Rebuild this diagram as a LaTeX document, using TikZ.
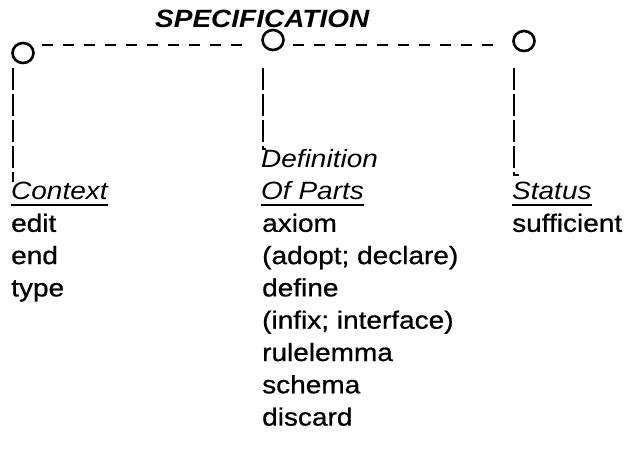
\documentclass[tikz,border=0pt]{standalone}
\usepackage{fontspec}
\setmainfont{Liberation Sans}
\newfontfamily\heavy{Liberation Sans}[FakeBold=0.7]
\usetikzlibrary{shapes.geometric}
\newcommand{\sx}[1]{\scalebox{1.12}[1]{#1}}
\begin{document}
\begin{tikzpicture}[x=1pt,y=-1pt,
  txt/.style={anchor=base west, inner sep=0pt, font=\fontsize{25}{25}\heavy},
  head/.style={anchor=base west, inner sep=0pt, font=\fontsize{25}{25}\selectfont\itshape},
  ring/.style={draw, ellipse, line width=2.6pt, minimum width=21pt, minimum height=20pt, inner sep=0pt},
  link/.style={line width=2.2pt, dash pattern=on 11pt off 10pt},
  stem/.style={line width=2.2pt, dash pattern=on 22pt off 4pt},
  uline/.style={line width=2pt}]
\useasboundingbox (0,0) rectangle (628,448);
\node[anchor=base west, inner sep=0pt, font=\fontsize{25}{25}\selectfont\bfseries\itshape] (title) at (155,27) {\sx{SPECIFICATION}};
\node[ring] (o1) at (23,53) {};
\node[ring] (o2) at (273,40) {};
\node[ring] (o3) at (524,41) {};
\coordinate (d1) at (42,45);
\coordinate (d2) at (246,45);
\coordinate (d3) at (293,45);
\coordinate (d4) at (497,45);
\draw[link] (d1) -- (d2);
\draw[link] (d3) -- (d4);
% left column
\node[head] (ctx) at (11,199.5) {\sx{Context}};
\node[txt] (edit) at (11,231.8) {\sx{edit}};
\node[txt] (end) at (11,264.1) {\sx{end}};
\node[txt] (type) at (11,296.4) {\sx{type}};
% middle column
\node[head] (def) at (261,167.2) {\sx{Definition}};
\node[head] (ofp) at (261,199.5) {\sx{Of Parts}};
\node[txt] (ax) at (262,231.8) {\sx{axiom}};
\node[txt] (ad) at (262,264.1) {\sx{(adopt; declare)}};
\node[txt] (df) at (262,296.4) {\sx{define}};
\node[txt] (inf) at (262,328.7) {\sx{(infix; interface)}};
\node[txt] (rl) at (262,361) {\sx{rulelemma}};
\node[txt] (sc) at (262,393.3) {\sx{schema}};
\node[txt] (dc) at (262,425.6) {\sx{discard}};
% right column
\node[head] (st) at (512,199.5) {\sx{Status}};
\node[txt] (suf) at (512,231.8) {\sx{sufficient}};
% underlines
\draw[uline] ([yshift=-5pt]ctx.base west) -- ([yshift=-5pt]ctx.base east);
\draw[uline] ([yshift=-5pt]ofp.base west) -- ([yshift=-5pt]ofp.base east);
\draw[uline] ([yshift=-5pt]st.base west) -- ([yshift=-5pt]st.base east);
% stems
\coordinate (s1) at (13,68);
\coordinate (s2) at (263,68);
\coordinate (s3) at (514,68);
\draw[stem] (s1) -- (s1 |- ctx.north);
\draw[stem] (s2) -- (s2 |- def.north) -- ++(3,0);
\draw[stem] (s3) -- ([yshift=7pt]s3 |- st.north) -- ++(5,0);
\end{tikzpicture}
\end{document}
